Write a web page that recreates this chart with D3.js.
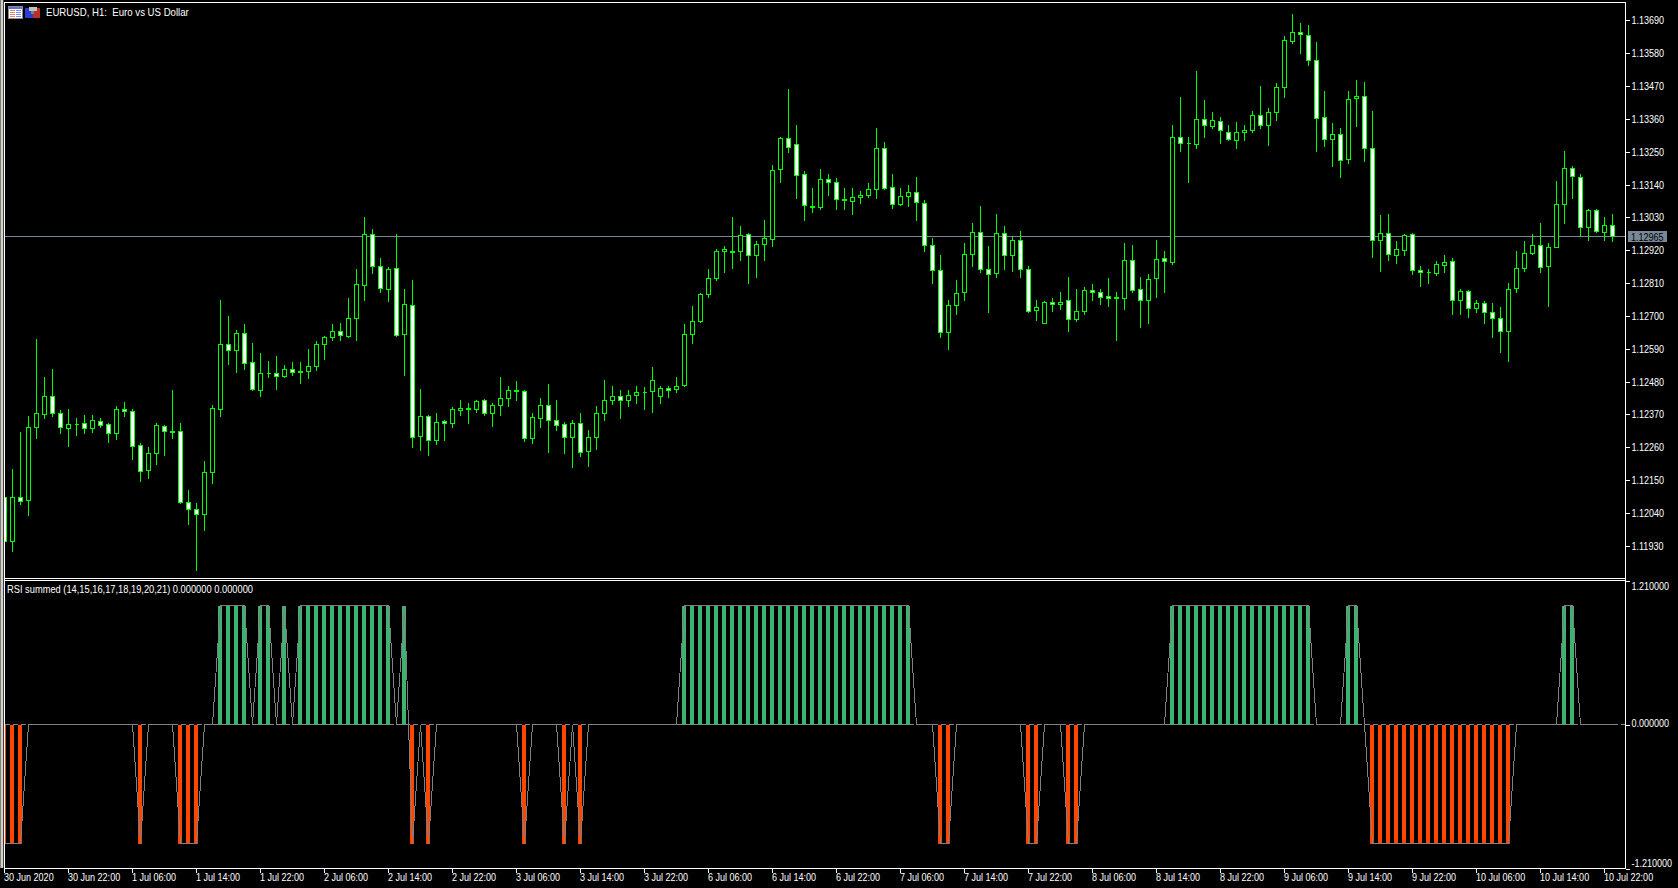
<!DOCTYPE html>
<html>
<head>
<meta charset="utf-8">
<title>EURUSD, H1</title>
<script src="https://cdn.jsdelivr.net/npm/d3@7"></script>
<style>
  html, body { margin: 0; background: #000; overflow: hidden; }
  svg { display: block; }
  text { font-family: "Liberation Sans", sans-serif; font-size: 11px; fill: #fff; white-space: pre; }
  .axis path { display: none; }
  .axis line { stroke: #fff; shape-rendering: crispEdges; }
  .crisp { shape-rendering: crispEdges; }
</style>
</head>
<body>
<div id="chart"></div>
<script>
// prices are in points, 112093 = 1.12093
var opens = [
  112093,111944,112093,112081,112326,112370,112431,112374,112323,112337,
  112340,112323,112347,112337,112306,112387,112381,112267,112182,112239,
  112330,112314,112314,112076,112052,112035,112175,112386,112605,112584,
  112642,112545,112450,112508,112508,112497,112521,112515,112514,112530,
  112604,112627,112649,112631,112691,112803,112973,112866,112787,112859,
  112637,112736,112296,112364,112282,112347,112340,112383,112390,112386,
  112417,112374,112400,112423,112451,112447,112289,112356,112400,112350,
  112337,112293,112340,112245,112292,112374,112417,112431,112417,112434,
  112444,112446,112431,112457,112454,112466,112637,112681,112771,112825,
  112915,112916,112915,112973,112903,112940,112956,113191,113295,113275,
  113174,113068,113064,113157,113147,113090,113084,113097,113103,113124,
  113261,113131,113074,113100,113114,113077,112936,112853,112644,112734,
  112779,112906,112980,112856,112843,112977,112903,112953,112856,112719,
  112675,112745,112739,112752,112689,112715,112786,112779,112766,112762,
  112759,112886,112789,112752,112826,112893,112879,113298,113278,113274,
  113358,113335,113352,113315,113288,113315,113322,113372,113338,113382,
  113466,113620,113650,113640,113556,113365,113291,113308,113224,113429,
  113435,113261,112953,112977,112903,112920,112973,112853,112846,112843,
  112869,112883,112752,112782,112725,112742,112712,112692,112648,112792,
  112859,112910,112936,112866,112930,113074,113194,113164,112997,113054,
  112980,113003
];
var highs = [
  112100,112187,112310,112362,112620,112495,112519,112382,112387,112358,
  112365,112365,112358,112340,112395,112409,112387,112271,112260,112340,
  112332,112449,112338,112114,112070,112211,112399,112750,112697,112650,
  112670,112606,112573,112546,112563,112533,112543,112543,112586,112613,
  112631,112670,112673,112757,112857,113028,112988,112891,112863,112974,
  112790,112817,112452,112367,112372,112351,112392,112415,112405,112418,
  112420,112407,112492,112465,112479,112449,112372,112422,112469,112418,
  112344,112348,112372,112315,112395,112485,112462,112449,112449,112465,
  112459,112526,112462,112465,112495,112670,112730,112775,112854,112924,
  112934,113028,113001,112976,112948,113018,113205,113299,113457,113339,
  113182,113128,113189,113175,113159,113125,113128,113115,113142,113326,
  113282,113175,113125,113138,113162,113085,112958,112901,112750,112820,
  112944,113008,113068,112931,113038,113001,112961,112984,112867,112753,
  112748,112757,112780,112827,112790,112796,112804,112787,112824,112777,
  112944,112936,112827,112837,112954,112917,113336,113430,113299,113517,
  113420,113380,113366,113339,113349,113336,113383,113467,113393,113477,
  113637,113708,113678,113674,113617,113453,113343,113326,113453,113487,
  113483,113383,113035,113041,112948,112973,112976,112867,112857,112881,
  112901,112891,112787,112785,112750,112747,112743,112727,112809,112914,
  112948,112974,113008,112941,113149,113249,113202,113172,113058,113057,
  113028,113038
];
var lows = [
  111920,111911,112067,112033,112291,112358,112362,112305,112261,112301,
  112305,112308,112325,112275,112285,112362,112218,112147,112154,112201,
  112231,112288,112073,112000,111846,111980,112137,112362,112536,112509,
  112519,112449,112429,112492,112455,112495,112502,112472,112489,112516,
  112553,112616,112616,112626,112616,112750,112841,112777,112747,112632,
  112502,112258,112248,112232,112268,112284,112326,112368,112338,112378,
  112365,112328,112368,112398,112415,112278,112274,112325,112241,112315,
  112238,112191,112228,112197,112254,112351,112402,112355,112395,112405,
  112388,112375,112405,112428,112442,112462,112609,112679,112763,112817,
  112847,112860,112884,112807,112827,112884,112934,113148,113246,113092,
  113021,113045,113058,113102,113055,113055,113038,113075,113098,113092,
  113122,113061,113071,113065,113021,112914,112807,112629,112586,112703,
  112750,112867,112844,112713,112827,112854,112850,112827,112713,112683,
  112673,112716,112720,112649,112680,112706,112753,112737,112730,112619,
  112723,112780,112660,112673,112760,112777,112871,113249,113148,113262,
  113299,113326,113276,113289,113262,113289,113313,113329,113272,113353,
  113433,113611,113580,113540,113249,113269,113199,113162,113209,113333,
  113216,112897,112850,112884,112877,112901,112840,112800,112807,112834,
  112844,112703,112706,112693,112710,112676,112629,112579,112546,112777,
  112850,112904,112847,112733,112928,113011,113092,112967,112951,112978,
  112954,112948
];
var closes = [
  111944,112093,112078,112327,112374,112431,112373,112326,112337,112335,
  112323,112350,112333,112306,112387,112380,112262,112179,112240,112334,
  112313,112309,112075,112051,112035,112176,112391,112605,112584,112642,
  112541,112453,112508,112506,112497,112521,112510,112510,112531,112605,
  112629,112649,112634,112692,112806,112973,112865,112791,112856,112634,
  112739,112292,112364,112282,112344,112340,112387,112390,112386,112414,
  112374,112400,112424,112451,112446,112289,112360,112400,112350,112334,
  112293,112340,112242,112293,112374,112417,112431,112417,112434,112444,
  112443,112484,112457,112451,112464,112638,112682,112772,112826,112916,
  112923,112912,112970,112903,112940,112960,113188,113295,113265,113171,
  113070,113064,113157,113147,113090,113086,113097,113104,113124,113261,
  113127,113074,113100,113114,113079,112936,112853,112645,112735,112776,
  112906,112980,112856,112839,112977,112903,112953,112856,112715,112729,
  112745,112739,112745,112689,112715,112786,112779,112762,112759,112758,
  112886,112786,112752,112822,112890,112883,113298,113278,113277,113358,
  113338,113355,113322,113291,113315,113322,113372,113338,113382,113466,
  113623,113650,113643,113556,113362,113291,113308,113221,113425,113435,
  113261,112953,112977,112906,112923,112970,112853,112846,112845,112873,
  112880,112752,112782,112725,112742,112712,112692,112648,112789,112859,
  112910,112936,112863,112930,113074,113194,113167,112997,113054,112983,
  113003,112967
];
// RSI summed, one value per hourly bar
var rsiSummed = [
  -1,-1,-1,0,0,0,0,0,0,0,
  0,0,0,0,0,0,0,-1,0,0,
  0,0,-1,-1,-1,0,0,1,1,1,
  1,0,1,1,0,1,0,1,1,1,
  1,1,1,1,1,1,1,1,1,0,
  1,-1,0,-1,0,0,0,0,0,0,
  0,0,0,0,0,-1,0,0,0,0,
  -1,0,-1,0,0,0,0,0,0,0,
  0,0,0,0,0,1,1,1,1,1,
  1,1,1,1,1,1,1,1,1,1,
  1,1,1,1,1,1,1,1,1,1,
  1,1,1,1,0,0,0,-1,-1,0,
  0,0,0,0,0,0,0,0,-1,-1,
  0,0,0,-1,-1,0,0,0,0,0,
  0,0,0,0,0,0,1,1,1,1,
  1,1,1,1,1,1,1,1,1,1,
  1,1,1,1,0,0,0,0,1,1,
  0,-1,-1,-1,-1,-1,-1,-1,-1,-1,
  -1,-1,-1,-1,-1,-1,-1,-1,-1,0,
  0,0,0,0,0,1,1,0,0,0,
  0,0
];
var priceTicks = [113690,113580,113470,113360,113250,113140,113030,112920,112810,112700,112590,112480,112370,112260,112150,112040,111930];
var rsiTicks = [1.21, 0, -1.21];
var bidPrice = 112965;
var timeLabels = [
  "30 Jun 2020","30 Jun 22:00","1 Jul 06:00","1 Jul 14:00","1 Jul 22:00","2 Jul 06:00","2 Jul 14:00",
  "2 Jul 22:00","3 Jul 06:00","3 Jul 14:00","3 Jul 22:00","6 Jul 06:00","6 Jul 14:00","6 Jul 22:00",
  "7 Jul 06:00","7 Jul 14:00","7 Jul 22:00","8 Jul 06:00","8 Jul 14:00","8 Jul 22:00","9 Jul 06:00",
  "9 Jul 14:00","9 Jul 22:00","10 Jul 06:00","10 Jul 14:00","10 Jul 22:00"
];
var titleText = "EURUSD, H1:  Euro vs US Dollar";
var legendText = "RSI summed (14,15,16,17,18,19,20,21) 0.000000 0.000000";

// Chart params
var svgWidth = 1678, svgHeight = 888;
var plotLeft = 5, plotRight = 1625, mainBottom = 578, subTop = 580, subBottom = 868;

var svg = d3.select("#chart").append("svg")
  .attr("width", svgWidth)
  .attr("height", svgHeight);

var xScale = d3.scaleLinear().domain([0, 201]).range([4.5, 1612.5]);
var yPrice = d3.scaleLinear().domain([113690, 111930]).range([20.3, 545.8]);
var yRsi = d3.scaleLinear().domain([1.21, -1.21]).range([581, 868.5]);

var defs = svg.append("defs");
defs.append("clipPath").attr("id", "plotClip").append("rect")
  .attr("x", plotLeft).attr("y", 3)
  .attr("width", plotRight - plotLeft).attr("height", subBottom - 3);

// The terminal font is narrower than anything installed, squeeze the glyphs to its width
function squeeze(selection, k) {
  selection.each(function() {
    d3.select(this)
      .attr("textLength", this.getComputedTextLength() * k)
      .attr("lengthAdjust", "spacingAndGlyphs");
  });
}

// Window frame
function frameRect(x, y, w, h, color) {
  svg.append("rect").attr("class", "crisp")
    .attr("x", x).attr("y", y).attr("width", w).attr("height", h).attr("fill", color);
}
frameRect(0, 0, 1, subBottom, "#808080");
frameRect(1, 0, 2, subBottom, "#d4d0c8");
frameRect(3, 0, 1, subBottom, "#404040");
frameRect(4, 2, 1, subBottom - 1, "#fff");
frameRect(4, 2, plotRight - 3, 1, "#fff");
frameRect(4, mainBottom, plotRight - 3, 1, "#fff");
frameRect(4, subTop, plotRight - 3, 1, "#fff");
frameRect(4, subBottom, plotRight - 3, 1, "#fff");
frameRect(plotRight, 2, 1, subBottom - 1, "#fff");

var plot = svg.append("g").attr("clip-path", "url(#plotClip)");

// Bid line goes under the candles
plot.append("line").attr("class", "crisp")
  .attr("x1", plotLeft).attr("x2", plotRight)
  .attr("y1", yPrice(bidPrice)).attr("y2", yPrice(bidPrice))
  .attr("stroke", "#778899");

var bars = d3.range(opens.length);

// Candles
plot.append("g").selectAll("line")
  .data(bars)
  .enter()
  .append("line")
  .attr("class", "crisp")
  .attr("x1", d => xScale(d)).attr("x2", d => xScale(d))
  .attr("y1", d => Math.floor(yPrice(highs[d])))
  .attr("y2", d => Math.floor(yPrice(lows[d])) + 1)
  .attr("stroke", "#00ff00");

plot.append("g").selectAll("path")
  .data(bars)
  .enter()
  .append("path")
  .attr("class", "crisp")
  .attr("d", function(d) {
    var top = Math.floor(yPrice(Math.max(opens[d], closes[d]))) + 0.5;
    var bottom = Math.floor(yPrice(Math.min(opens[d], closes[d]))) + 0.5;
    var left = xScale(d) - 2;
    return `M${left},${top}h4V${bottom}h-4Z`;
  })
  .attr("fill", d => closes[d] < opens[d] ? "#fff" : "#000")
  .attr("stroke", "#00ff00");

// RSI histogram
plot.append("g").selectAll("rect")
  .data(bars.filter(d => rsiSummed[d] != 0))
  .enter()
  .append("rect")
  .attr("class", "crisp")
  .attr("x", d => xScale(d) - 2.5)
  .attr("width", 4)
  .attr("y", d => Math.min(yRsi(rsiSummed[d]), yRsi(0)))
  .attr("height", d => Math.abs(yRsi(rsiSummed[d]) - yRsi(0)))
  .attr("fill", d => rsiSummed[d] > 0 ? "#3cb371" : "#ff4500");

// Zero level
plot.append("line").attr("class", "crisp")
  .attr("x1", plotLeft).attr("x2", plotRight)
  .attr("y1", yRsi(0)).attr("y2", yRsi(0))
  .attr("stroke", "#778899")
  .attr("stroke-dasharray", "5,3");

// RSI line
var rsiLine = d3.line().x(d => xScale(d)).y(d => yRsi(rsiSummed[d]));
plot.append("path")
  .datum(bars)
  .attr("class", "crisp")
  .attr("d", rsiLine)
  .attr("fill", "none")
  .attr("stroke", "#808080");

// Axes
var priceAxis = d3.axisRight(yPrice)
  .tickValues(priceTicks)
  .tickSize(4)
  .tickPadding(2)
  .offset(0.5)
  .tickFormat(d => (d / 100000).toFixed(5));
svg.append("g").attr("class", "axis")
  .attr("transform", `translate(${plotRight + 0.5},0)`)
  .call(priceAxis)
  .selectAll("text")
  .call(squeeze, 0.82);

var rsiAxis = d3.axisRight(yRsi)
  .tickValues(rsiTicks)
  .tickSize(4)
  .tickPadding(2)
  .offset(0.5)
  .tickFormat(d => d.toFixed(6));
var rsiAxisGroup = svg.append("g").attr("class", "axis")
  .attr("transform", `translate(${plotRight + 0.5},0)`)
  .call(rsiAxis);
// the end labels are pushed inside the window
rsiAxisGroup.selectAll("text")
  .attr("dy", d => d > 0 ? "0.75em" : d < 0 ? "-0.15em" : "0.2em")
  .call(squeeze, 0.82);

var timeAxis = d3.axisBottom(xScale)
  .tickValues(timeLabels.map((t, i) => i * 8))
  .tickSize(4)
  .tickPadding(1)
  .offset(0)
  .tickFormat((d, i) => timeLabels[i]);
svg.append("g").attr("class", "axis")
  .attr("transform", `translate(0,${subBottom + 0.5})`)
  .call(timeAxis)
  .selectAll("text")
  .attr("text-anchor", "start")
  .attr("x", -0.5)
  .call(squeeze, 0.82);

// Current price tag
svg.append("rect").attr("class", "crisp")
  .attr("x", 1628).attr("y", 231).attr("width", 39).attr("height", 11)
  .attr("fill", "#778899");
svg.append("text")
  .attr("x", 1631).attr("y", yPrice(bidPrice))
  .attr("dy", "0.36em")
  .style("fill", "#000")
  .text((bidPrice / 100000).toFixed(5))
  .call(squeeze, 0.82);

// Window title and indicator name
svg.append("text").attr("x", 46).attr("y", 12.5).attr("dy", "0.35em").text(titleText).call(squeeze, 0.875);
svg.append("text").attr("x", 7).attr("y", 589).attr("dy", "0.35em").text(legendText).call(squeeze, 0.845);

// Small toolbar icons next to the title
function iconRect(x, y, w, h, color) {
  svg.append("rect").attr("class", "crisp")
    .attr("x", x).attr("y", y).attr("width", w).attr("height", h).attr("fill", color);
}
iconRect(8, 6, 15, 13, "#8a8a8a");
iconRect(9, 7, 13, 11, "#ffffff");
iconRect(9, 7, 13, 2, "#5a6fe0");
iconRect(10, 10, 5, 1, "#f08070");
iconRect(10, 12, 5, 1, "#f08070");
iconRect(10, 14, 5, 1, "#f08070");
iconRect(10, 16, 5, 1, "#f08070");
iconRect(16, 10, 5, 1, "#7a8cf0");
iconRect(16, 12, 5, 1, "#7a8cf0");
iconRect(16, 14, 5, 1, "#7a8cf0");
iconRect(16, 16, 5, 1, "#7a8cf0");
iconRect(25, 8, 8, 10, "#2a3fd0");
iconRect(33, 8, 7, 10, "#b83028");
iconRect(29, 7, 8, 4, "#c0c0c0");
iconRect(31, 11, 3, 3, "#808080");
</script>
</body>
</html>
